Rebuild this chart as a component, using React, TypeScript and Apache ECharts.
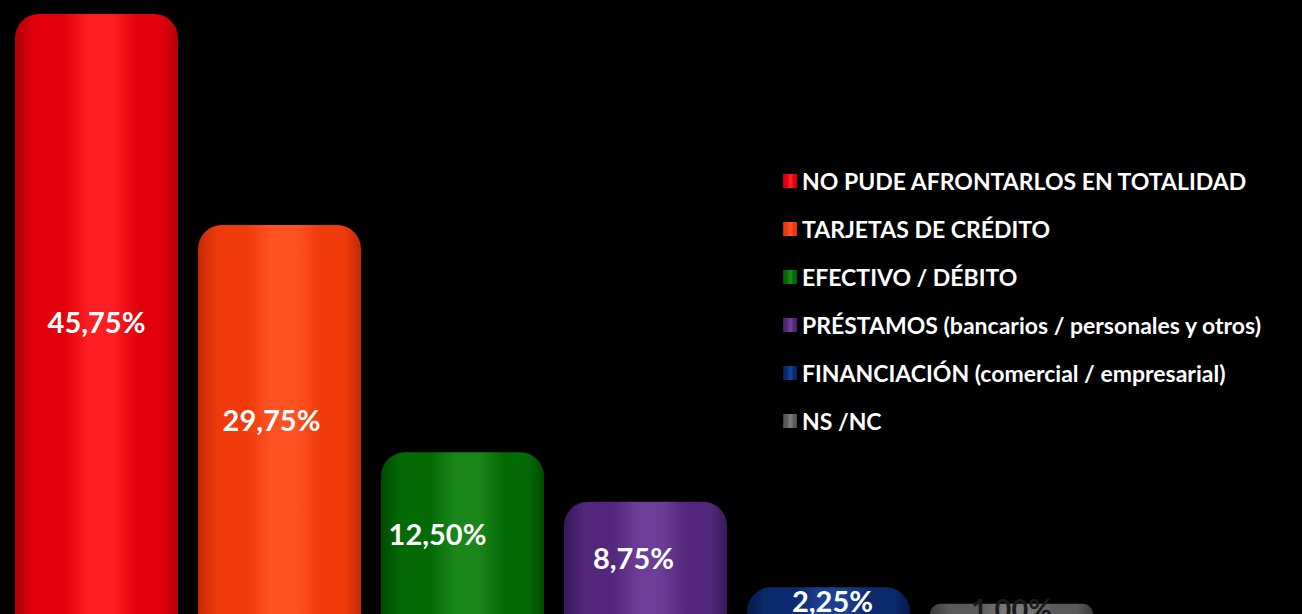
import React, { useEffect, useRef } from "react";
import * as echarts from "echarts";

const categories = [
  "NO PUDE AFRONTARLOS EN TOTALIDAD",
  "TARJETAS DE CRÉDITO",
  "EFECTIVO / DÉBITO",
  "PRÉSTAMOS (bancarios / personales y otros)",
  "FINANCIACIÓN (comercial / empresarial)",
  "NS /NC",
];
const values = [45.75, 29.75, 12.5, 8.75, 2.25, 1.0];

// styling only
const palettes = [
  { dark: "#b00008", base: "#e2000c", light: "#ff1e22", text: "#ffffff" },
  { dark: "#c02a06", base: "#f03a0c", light: "#ff5222", text: "#ffffff" },
  { dark: "#004a00", base: "#036a06", light: "#1a861a", text: "#ffffff" },
  { dark: "#38185a", base: "#52267a", light: "#6c3e98", text: "#ffffff" },
  { dark: "#061a4a", base: "#0b2a6e", light: "#1c4090", text: "#ffffff" },
  { dark: "#3a3a3a", base: "#5a5a5a", light: "#787878", text: "#1a1a1a" },
];
const labelOffsets = [
  [0, 8],
  [-8, 0],
  [-25, 0],
  [-12, 0],
  [4, 0],
  [0, 0],
];

function grad(p: { dark: string; base: string; light: string }) {
  return new echarts.graphic.LinearGradient(0, 0, 1, 0, [
    { offset: 0, color: p.dark },
    { offset: 0.12, color: p.base },
    { offset: 0.3, color: p.base },
    { offset: 0.45, color: p.light },
    { offset: 0.6, color: p.light },
    { offset: 0.75, color: p.base },
    { offset: 0.9, color: p.base },
    { offset: 1, color: p.dark },
  ]);
}

const fmt = (v: number) => v.toFixed(2).replace(".", ",") + "%";

export default function App() {
  const ref = useRef<HTMLDivElement>(null);
  useEffect(() => {
    if (!ref.current) return;
    const chart = echarts.init(ref.current, undefined, { renderer: "svg" });
    const series = categories.map((name, i) => ({
      type: "bar" as const,
      name,
      barWidth: 163,
      barGap: "-100%",
      data: values.map((v, j) => (j === i ? v : "-")),
      itemStyle: {
        color: grad(palettes[i]),
        borderRadius: [24, 24, 0, 0],
      },
      label: {
        show: true,
        position: "inside" as const,
        offset: labelOffsets[i],
        formatter: (p: any) => fmt(p.value),
        color: palettes[i].text,
        fontFamily: "Lato",
        fontWeight: "bold" as const,
        fontSize: 29,
      },
    }));
    chart.setOption({
      animation: false,
      backgroundColor: "#000000",
      grid: { left: 5, right: 199, top: 0, bottom: 0 },
      xAxis: {
        type: "category",
        data: categories,
        show: false,
        boundaryGap: true,
      },
      yAxis: {
        type: "value",
        min: 0.23,
        max: 46.81,
        show: false,
        splitLine: { show: false },
      },
      legend: {
        orient: "vertical",
        left: 783,
        top: 168,
        padding: 0,
        icon: "rect",
        itemWidth: 14,
        itemHeight: 14,
        itemGap: 22,
        data: categories,
        textStyle: {
          color: "#ffffff",
          fontFamily: "Lato",
          fontWeight: "bold",
          fontSize: 23,
          lineHeight: 26,
        },
        selectedMode: false,
      },
      series,
    });
    return () => chart.dispose();
  }, []);
  return (
    <div
      ref={ref}
      style={{ position: "fixed", left: 0, top: 0, width: 1302, height: 614 }}
    />
  );
}
